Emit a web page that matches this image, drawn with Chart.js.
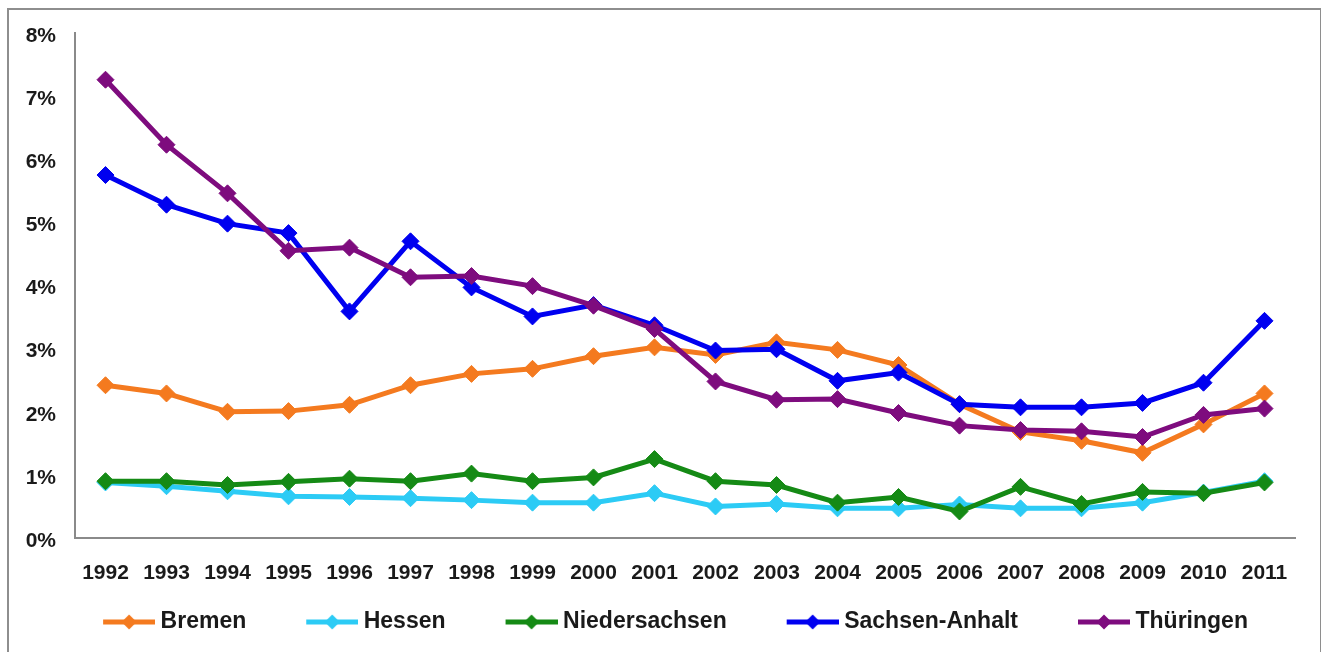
<!DOCTYPE html>
<html lang="de">
<head>
<meta charset="utf-8">
<title>Anteil nach Bundesland 1992–2011</title>
<script src="https://cdn.jsdelivr.net/npm/chart.js@4/dist/chart.umd.min.js"></script>
<style>
  html, body { margin: 0; padding: 0; background: #ffffff; }
  #wrap { position: relative; width: 1321px; height: 652px; overflow: hidden; }
  #frame {
    position: absolute; left: 7px; top: 8px; width: 1311px; height: 700px;
    border: 2px solid #8e8e8e; border-bottom: none; pointer-events: none;
  }
  #chart { position: absolute; left: 0; top: 0; }
</style>
</head>
<body>
<div id="wrap">
  <canvas id="chart" width="1321" height="652"></canvas>
  <div id="frame"></div>
</div>
<script>
// Jahre (Kategorien)
const years = ['1992','1993','1994','1995','1996','1997','1998','1999','2000','2001',
               '2002','2003','2004','2005','2006','2007','2008','2009','2010','2011'];

// Werte in Prozent
const bremen        = [2.42, 2.29, 2.00, 2.01, 2.11, 2.42, 2.60, 2.68, 2.88, 3.02,
                       2.90, 3.10, 2.98, 2.74, 2.12, 1.68, 1.54, 1.35, 1.80, 2.29];
const hessen        = [0.88, 0.82, 0.74, 0.66, 0.65, 0.63, 0.60, 0.56, 0.56, 0.71,
                       0.50, 0.54, 0.47, 0.47, 0.53, 0.47, 0.47, 0.56, 0.72, 0.90];
const niedersachsen = [0.90, 0.90, 0.84, 0.89, 0.94, 0.90, 1.02, 0.90, 0.96, 1.25,
                       0.90, 0.84, 0.56, 0.65, 0.42, 0.81, 0.54, 0.73, 0.71, 0.88];
const sachsenAnhalt = [5.75, 5.28, 4.98, 4.83, 3.59, 4.70, 3.97, 3.51, 3.69, 3.37,
                       2.97, 2.99, 2.49, 2.62, 2.12, 2.07, 2.07, 2.14, 2.46, 3.44];
const thueringen    = [7.26, 6.23, 5.46, 4.55, 4.60, 4.13, 4.15, 3.99, 3.68, 3.31,
                       2.48, 2.19, 2.20, 1.98, 1.78, 1.71, 1.69, 1.60, 1.95, 2.05];

// Achsenbeschriftung
const yTicks = [0, 1, 2, 3, 4, 5, 6, 7, 8];

const seriesNames  = ['Bremen', 'Hessen', 'Niedersachsen', 'Sachsen-Anhalt', 'Thüringen'];
const seriesValues = [bremen, hessen, niedersachsen, sachsenAnhalt, thueringen];
const seriesColors = ['#F47A1F', '#2CCBF5', '#158A15', '#0000F0', '#7E0C7E'];

// Legendensymbol: Linie mit Raute, rechtsbündig in einem breiteren Bild
function legendSymbol(color) {
  const c = document.createElement('canvas');
  c.width = 108; c.height = 20;
  const g = c.getContext('2d');
  g.strokeStyle = color; g.lineWidth = 5;
  g.beginPath(); g.moveTo(56, 10); g.lineTo(108, 10); g.stroke();
  g.fillStyle = color;
  g.beginPath();
  g.moveTo(82, 2.5); g.lineTo(89.5, 10); g.lineTo(82, 17.5); g.lineTo(74.5, 10);
  g.closePath(); g.fill();
  return c;
}
const legendImages = seriesColors.map(legendSymbol);

const datasets = seriesNames.map((name, i) => ({
  label: name,
  data: seriesValues[i],
  borderColor: seriesColors[i],
  backgroundColor: seriesColors[i],
  borderWidth: 5,
  pointStyle: 'rectRot',
  pointRadius: 8.5,
  pointBorderWidth: 1,
  pointBackgroundColor: seriesColors[i],
  pointBorderColor: seriesColors[i],
  tension: 0,
  fill: false,
  order: seriesNames.length - i
}));

const tickFont = { family: '"Liberation Sans", Arial, sans-serif', size: 21, weight: 'bold' };

new Chart(document.getElementById('chart'), {
  type: 'line',
  data: { labels: years, datasets },
  options: {
    responsive: false,
    animation: false,
    events: [],
    layout: { padding: { left: 6, right: 26, top: 33, bottom: 8.5 } },
    scales: {
      x: {
        offset: true,
        grid: { display: false, drawTicks: false },
        border: { display: true, color: '#8a8a8a', width: 2 },
        ticks: { font: tickFont, color: '#1a1a1a', padding: 23, maxRotation: 0, autoSkip: false },
        afterFit(scale) { scale.height = 62.5; }
      },
      y: {
        min: 0, max: 8,
        grid: { display: false, drawTicks: false },
        border: { display: true, color: '#8a8a8a', width: 2 },
        afterBuildTicks(scale) { scale.ticks = yTicks.map(v => ({ value: v })); },
        ticks: {
          font: tickFont, color: '#1a1a1a', padding: 19, labelOffset: 3,
          callback: v => v + '%'
        },
        afterFit(scale) { scale.width = 69; }
      }
    },
    plugins: {
      tooltip: { enabled: false },
      legend: {
        position: 'bottom',
        labels: {
          usePointStyle: true,
          pointStyleWidth: 96,
          padding: 10,
          color: '#1a1a1a',
          font: { family: '"Liberation Sans", Arial, sans-serif', size: 23, weight: 'bold' },
          sort: (a, b) => a.datasetIndex - b.datasetIndex,
          generateLabels(chart) {
            const items = Chart.defaults.plugins.legend.labels.generateLabels(chart);
            items.forEach(it => { it.pointStyle = legendImages[it.datasetIndex]; });
            return items;
          }
        }
      }
    }
  }
});
</script>
</body>
</html>
